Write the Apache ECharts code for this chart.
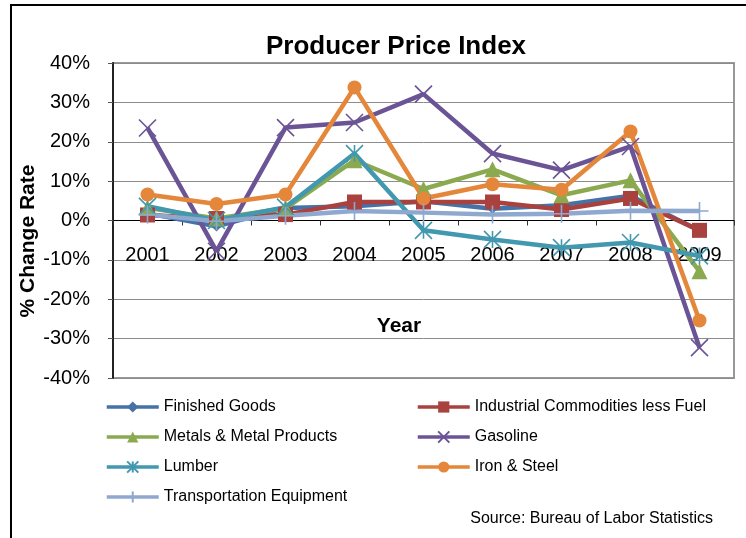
<!DOCTYPE html>
<html>
<head>
<meta charset="utf-8">
<title>Producer Price Index</title>
<script src="https://cdn.jsdelivr.net/npm/echarts@6/dist/echarts.min.js"></script>
<style>
  html, body { margin: 0; padding: 0; background: #fff; }
  #chart { width: 746px; height: 538px; }
</style>
</head>
<body>
<div id="chart"></div>
<script>
// Annual % change of producer price indexes, 2001-2009
const years = ['2001', '2002', '2003', '2004', '2005', '2006', '2007', '2008', '2009'];
const finishedGoods = [1.8, -1.5, 3.2, 3.6, 4.9, 3.0, 3.9, 6.3, -2.6];
const industrialLessFuel = [1.4, 0.5, 1.5, 4.7, 4.7, 4.7, 2.8, 5.6, -2.5];
const metalsProducts = [3.2, 0.5, 3.1, 15.3, 8.0, 13.0, 6.4, 10.2, -12.9];
const gasoline = [23.5, -7.8, 23.6, 24.9, 32.1, 17.0, 12.8, 18.8, -32.3];
const lumber = [3.6, 0.0, 3.4, 17.0, -2.5, -4.8, -6.9, -5.6, -9.0];
const ironSteel = [6.6, 4.2, 6.6, 33.8, 5.6, 9.2, 7.8, 22.6, -25.4];
const transportEquip = [1.5, -0.2, 1.2, 2.4, 2.0, 1.5, 1.7, 2.5, 2.4];
const yTicks = [-40, -30, -20, -10, 0, 10, 20, 30, 40];

const FONT = "'Liberation Sans', Arial, sans-serif";

// plot box (px)
const GRID_TOP = 63, GRID_BOTTOM = 160, CHART_H = 538;
const plotH = CHART_H - GRID_TOP - GRID_BOTTOM;
// distance from the bottom edge of the plot up to the 0% line
const zeroLift = plotH * (0 - yTicks[0]) / (yTicks[yTicks.length - 1] - yTicks[0]);

// stroked marker shapes
const SYM_X = 'path://M0,0 L10,10 M10,0 L0,10';
const SYM_STAR = 'path://M0,0 L10,10 M10,0 L0,10 M5,0 L5,10';
const SYM_PLUS = 'path://M5,0 L5,10 M0,5 L10,5';

function lineSeries(name, data, color, symbol, size, stroked) {
  return {
    name: name,
    type: 'line',
    data: data,
    symbol: symbol,
    symbolSize: size,
    symbolKeepAspect: true,
    showAllSymbol: true,
    lineStyle: { color: color, width: 4.5 },
    itemStyle: stroked
      ? { color: color, borderColor: color, borderWidth: 1.6 }
      : { color: color, borderWidth: 0 },
    emphasis: { disabled: true }
  };
}

const legendCommon = {
  orient: 'vertical', top: 398, padding: 0,
  itemWidth: 52, itemHeight: 14, itemGap: 12,
  lineStyle: { width: 3.5 },
  textStyle: { fontFamily: FONT, fontSize: 16, lineHeight: 18, color: '#000' },
  selectedMode: false
};

const chart = echarts.init(document.getElementById('chart'), null, { renderer: 'canvas' });

chart.setOption({
  animation: false,
  backgroundColor: '#ffffff',
  textStyle: { fontFamily: FONT },
  title: {
    text: 'Producer Price Index',
    left: 391,
    top: 29,
    textAlign: 'center',
    textStyle: { fontFamily: FONT, fontSize: 26, fontWeight: 'bold', color: '#000' }
  },
  grid: {
    left: 113, right: 12, top: GRID_TOP, bottom: GRID_BOTTOM,
    show: true, borderColor: '#999', borderWidth: 2, backgroundColor: 'transparent'
  },
  xAxis: {
    type: 'category',
    data: years,
    boundaryGap: true,
    position: 'bottom',
    offset: -zeroLift,
    axisLine: { onZero: false, lineStyle: { color: '#000', width: 1 } },
    axisTick: { show: true, inside: false, length: 5, lineStyle: { color: '#333' } },
    axisLabel: { margin: 25, fontFamily: FONT, fontSize: 20, color: '#000' },
    splitLine: { show: false }
  },
  yAxis: {
    type: 'value',
    min: yTicks[0],
    max: yTicks[yTicks.length - 1],
    interval: 10,
    axisLine: { show: true, onZero: false, lineStyle: { color: '#222', width: 2 } },
    axisTick: { show: true, length: 5, lineStyle: { color: '#555' } },
    axisLabel: { margin: 23, formatter: '{value}%', fontFamily: FONT, fontSize: 20, color: '#000' },
    splitLine: { show: true, lineStyle: { color: '#8c8c8c', width: 1 } }
  },
  legend: [
    Object.assign({}, legendCommon, {
      data: ['Finished Goods', 'Metals & Metal Products', 'Lumber', 'Transportation Equipment'],
      left: 105
    }),
    Object.assign({}, legendCommon, {
      data: ['Industrial Commodities less Fuel', 'Gasoline', 'Iron & Steel'],
      left: 416
    })
  ],
  graphic: [
    {
      type: 'rect', silent: true, z: 100,
      shape: { x: 11, y: 5, width: 760, height: 560 },
      style: { fill: 'none', stroke: '#000', lineWidth: 2 }
    },
    {
      type: 'text', silent: true, x: 28, y: 241, rotation: Math.PI / 2,
      style: { text: '% Change Rate', fontFamily: FONT, fontSize: 21, fontWeight: 'bold',
               fill: '#000', align: 'center', verticalAlign: 'middle' }
    },
    {
      type: 'text', silent: true, x: 399, y: 326,
      style: { text: 'Year', fontFamily: FONT, fontSize: 21, fontWeight: 'bold',
               fill: '#000', align: 'center', verticalAlign: 'middle' }
    },
    {
      type: 'text', silent: true, x: 713, y: 519,
      style: { text: 'Source: Bureau of Labor Statistics', fontFamily: FONT, fontSize: 16,
               fill: '#000', align: 'right', verticalAlign: 'middle' }
    }
  ],
  series: [
    lineSeries('Finished Goods', finishedGoods, '#4572A7', 'diamond', 10, false),
    lineSeries('Industrial Commodities less Fuel', industrialLessFuel, '#A9423F', 'rect', 15, false),
    lineSeries('Metals & Metal Products', metalsProducts, '#8BAA4F', 'triangle', 16, false),
    lineSeries('Gasoline', gasoline, '#6B5496', SYM_X, 17, true),
    lineSeries('Lumber', lumber, '#4298AE', SYM_STAR, 17, true),
    lineSeries('Iron & Steel', ironSteel, '#E4873A', 'circle', 14, false),
    lineSeries('Transportation Equipment', transportEquip, '#8EA8CF', SYM_PLUS, 18, true)
  ]
});
</script>
</body>
</html>
